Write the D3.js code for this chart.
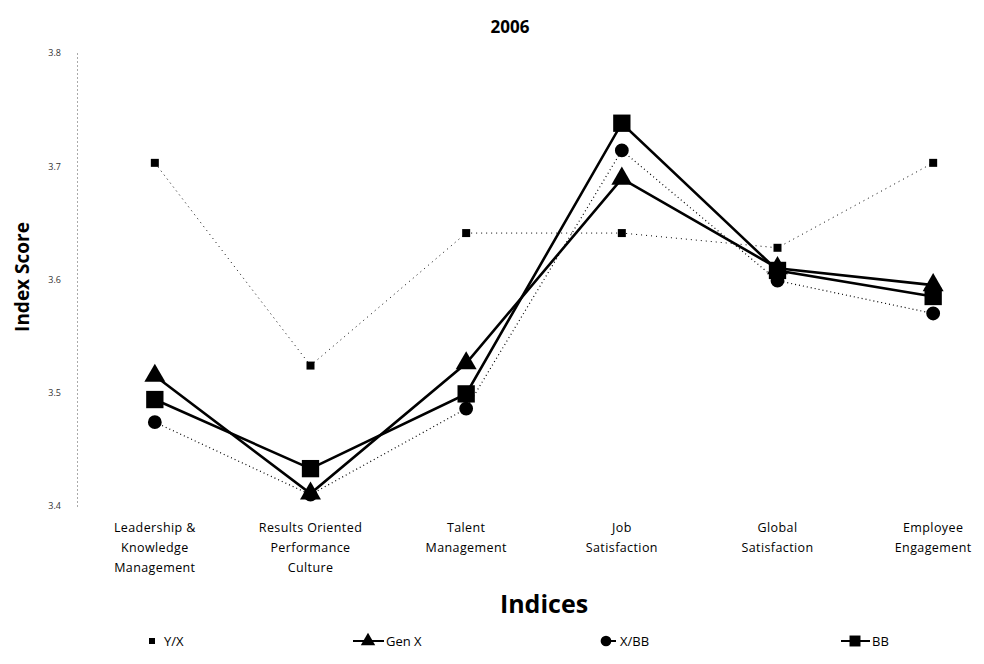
<!DOCTYPE html>
<html>
<head>
<meta charset="utf-8">
<script src="https://cdn.jsdelivr.net/npm/d3@7/dist/d3.min.js"></script>
<style>
  html, body { margin: 0; padding: 0; background: #fff; }
  svg { display: block; }
  text { font-family: "Open Sans", "Noto Sans", sans-serif; fill: #000; }
</style>
</head>
<body>
<svg id="chart" width="984" height="664"></svg>
<script>
// Index scores by generation, 2006
const categories = [
  ["Leadership &", "Knowledge", "Management"],
  ["Results Oriented", "Performance", "Culture"],
  ["Talent", "Management"],
  ["Job", "Satisfaction"],
  ["Global", "Satisfaction"],
  ["Employee", "Engagement"]
];
const yTicks = [3.4, 3.5, 3.6, 3.7, 3.8];

const seriesNames = ["Y/X", "Gen X", "X/BB", "BB"];
const yxValues   = [3.703, 3.524, 3.641, 3.641, 3.628, 3.703];
const genXValues = [3.515, 3.411, 3.526, 3.689, 3.610, 3.595];
const xbbValues  = [3.474, 3.410, 3.486, 3.714, 3.599, 3.570];
const bbValues   = [3.494, 3.433, 3.499, 3.738, 3.608, 3.585];

const svg = d3.select("#chart");

const plot = { left: 77, right: 1011, top: 53, bottom: 506 };

const x = d3.scalePoint()
  .domain(d3.range(categories.length))
  .range([plot.left, plot.right])
  .padding(0.5);

const y = d3.scaleLinear()
  .domain([3.4, 3.8])
  .range([plot.bottom, plot.top]);

// Title
svg.append("text")
  .attr("x", 510).attr("y", 33)
  .attr("text-anchor", "middle")
  .style("font-weight", "bold").style("font-size", "17px")
  .text("2006");

// Vertical axis: dotted line with small tick labels
const yAxis = svg.append("g").attr("transform", `translate(${plot.left},0)`)
  .call(d3.axisLeft(y).tickValues(yTicks).tickFormat(d3.format(".1f")).tickSize(0).tickPadding(16));
yAxis.select(".domain")
  .attr("stroke", "#555").attr("stroke-width", 1).attr("stroke-dasharray", "1,3");
yAxis.selectAll("text")
  .style("font-size", "9px").style("fill", "#333")
  .style("font-family", "'Open Sans', sans-serif");

// Axis titles
svg.append("text")
  .attr("transform", "translate(29,277) rotate(-90)")
  .attr("text-anchor", "middle")
  .style("font-weight", "bold").style("font-size", "19px")
  .text("Index Score");

svg.append("text")
  .attr("x", (plot.left + plot.right) / 2).attr("y", 613)
  .attr("text-anchor", "middle")
  .style("font-weight", "bold").style("font-size", "25px")
  .text("Indices");

// Category labels
const catG = svg.append("g");
categories.forEach((lines, i) => {
  const t = catG.append("text")
    .attr("x", x(i)).attr("y", 532)
    .attr("text-anchor", "middle")
    .style("font-size", "12.5px").style("letter-spacing", "0.4px");
  lines.forEach((ln, k) => {
    t.append("tspan").attr("x", x(i)).attr("dy", k === 0 ? 0 : 20).text(ln);
  });
});

const line = d3.line().x((d, i) => x(i)).y(d => y(d));

// Series styling
const series = [
  { name: seriesNames[0], values: yxValues,   width: 1,   dash: "1,4", marker: "smallSquare" },
  { name: seriesNames[1], values: genXValues, width: 2.6, dash: null,  marker: "triangle" },
  { name: seriesNames[2], values: xbbValues,  width: 1.2, dash: "1,3", marker: "circle" },
  { name: seriesNames[3], values: bbValues,   width: 2.6, dash: null,  marker: "square" }
];

const symbolFor = {
  smallSquare: d3.symbol().type(d3.symbolSquare).size(64),
  triangle: d3.symbol().type(d3.symbolTriangle).size(190),
  circle: d3.symbol().type(d3.symbolCircle).size(150),
  square: d3.symbol().type(d3.symbolSquare).size(300)
};

const linesG = svg.append("g");
series.forEach(s => {
  linesG.append("path")
    .datum(s.values)
    .attr("d", line)
    .attr("fill", "none")
    .attr("stroke", "#000")
    .attr("stroke-width", s.width)
    .attr("stroke-dasharray", s.dash);
});

const markersG = svg.append("g");
series.forEach(s => {
  markersG.selectAll(null)
    .data(s.values)
    .enter().append("path")
    .attr("transform", (d, i) => `translate(${x(i)},${y(d)})`)
    .attr("d", symbolFor[s.marker]())
    .attr("fill", "#000");
});

// Legend
const legendY = 641;
const legendItems = [
  { s: series[0], x: 152, lineFrom: null },
  { s: series[1], x: 368, lineFrom: [353, 384] },
  { s: series[2], x: 606, lineFrom: [606, 616] },
  { s: series[3], x: 855, lineFrom: [841, 870] }
];
const legSymFor = {
  smallSquare: d3.symbol().type(d3.symbolSquare).size(36),
  triangle: d3.symbol().type(d3.symbolTriangle).size(90),
  circle: d3.symbol().type(d3.symbolCircle).size(90),
  square: d3.symbol().type(d3.symbolSquare).size(120)
};
const legendG = svg.append("g");
legendItems.forEach(it => {
  if (it.lineFrom) {
    legendG.append("line")
      .attr("x1", it.lineFrom[0]).attr("x2", it.lineFrom[1])
      .attr("y1", legendY).attr("y2", legendY)
      .attr("stroke", "#000").attr("stroke-width", 2);
  }
  legendG.append("path")
    .attr("transform", `translate(${it.x},${legendY})`)
    .attr("d", legSymFor[it.s.marker]())
    .attr("fill", "#000");
  let tx = it.x + 12;
  if (it.lineFrom) tx = it.lineFrom[1] + (it.s.marker === "circle" ? 4 : 2);
  legendG.append("text")
    .attr("x", tx)
    .attr("y", legendY + 5)
    .style("font-size", "13px")
    .text(it.s.name);
});
</script>
</body>
</html>
